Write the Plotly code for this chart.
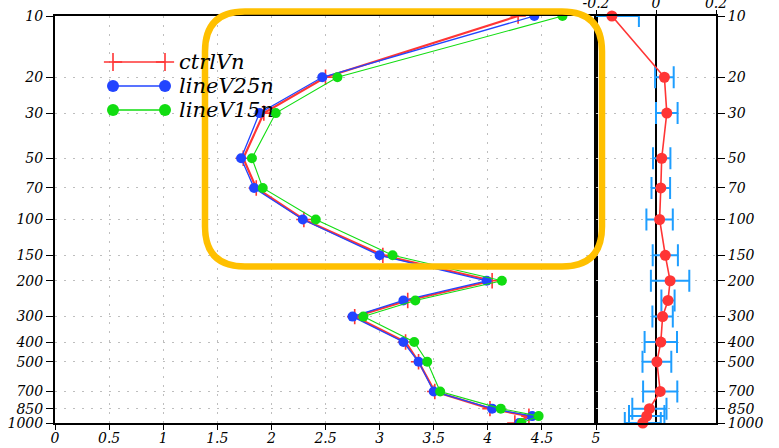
import plotly.graph_objects as go

# Pressure levels (hPa)
levels = [10, 20, 30, 50, 70, 100, 150, 200, 250, 300, 400, 500, 700, 850, 925, 1000]
tick_levels = [10, 20, 30, 50, 70, 100, 150, 200, 300, 400, 500, 700, 850, 1000]

# Profiles (left panel)
ctrlVn = [4.28, 2.50, 1.93, 1.74, 1.86, 2.30, 3.03, 4.04, 3.26, 2.77, 3.24, 3.36, 3.51, 4.02, 4.38, 4.25]
lineV25n = [4.43, 2.47, 1.89, 1.72, 1.84, 2.29, 3.00, 3.99, 3.22, 2.75, 3.22, 3.36, 3.50, 4.04, 4.41, 4.29]
lineV15n = [4.69, 2.61, 2.04, 1.82, 1.92, 2.41, 3.12, 4.13, 3.33, 2.85, 3.32, 3.44, 3.56, 4.12, 4.47, 4.31]

# Difference profile with spread (right panel)
diff = [-0.147, 0.028, 0.036, 0.019, 0.016, 0.012, 0.031, 0.047, 0.040, 0.022, 0.016, 0.003, 0.014, -0.022, -0.031, -0.044]
spread = [0.09, 0.031, 0.036, 0.029, 0.031, 0.044, 0.042, 0.064, 0.022, 0.034, 0.054, 0.048, 0.057, 0.057, 0.059, 0.06]

x_ticks = [0, 0.5, 1, 1.5, 2, 2.5, 3, 3.5, 4, 4.5, 5]
x_tick_text = ["0", "0.5", "1", "1.5", "2", "2.5", "3", "3.5", "4", "4.5", "5"]
x2_ticks = [-0.2, 0, 0.2]
x2_tick_text = ["-0.2", "0", "0.2"]

RED, BLUE, GREEN = "#FF3535", "#2244FF", "#11DD11"
ERR = "#1E9EFF"
ORANGE = "#FFC000"

W, H = 779, 448
ML, MR, MT, MB = 55, 63, 16, 25
PW, PH = W - ML - MR, H - MT - MB
split = (596 - ML) / PW

FONT = "DejaVu Serif"
tickfont = dict(family=FONT, size=14, color="black", style="italic")

fig = go.Figure()

fig.add_trace(go.Scatter(
    x=ctrlVn, y=levels, name="ctrlVn", mode="lines+markers",
    line=dict(color=RED, width=2.2),
    marker=dict(symbol="cross-thin", size=11, line=dict(color=RED, width=1.6)),
    xaxis="x", yaxis="y", showlegend=False))
fig.add_trace(go.Scatter(
    x=lineV25n, y=levels, name="lineV25n", mode="lines+markers",
    line=dict(color=BLUE, width=1.3),
    marker=dict(symbol="circle", size=10, color=BLUE),
    xaxis="x", yaxis="y", showlegend=False))
fig.add_trace(go.Scatter(
    x=lineV15n, y=levels, name="lineV15n", mode="lines+markers",
    line=dict(color=GREEN, width=1.1),
    marker=dict(symbol="circle", size=10, color=GREEN),
    xaxis="x", yaxis="y", showlegend=False))

fig.add_trace(go.Scatter(
    x=diff, y=levels, mode="lines+markers",
    line=dict(color=RED, width=1.6),
    marker=dict(symbol="circle", size=11, color=RED),
    error_x=dict(type="data", array=spread, color=ERR, thickness=2, width=11),
    cliponaxis=False, xaxis="x2", yaxis="y2", showlegend=False))

# Legend drawn on an overlay axis measured in pixels of the left panel
leg_rows = [("ctrlVn", RED, "cross-thin", 62), ("lineV25n", BLUE, "circle", 86), ("lineV15n", GREEN, "circle", 110)]
for name, col, sym, yy in leg_rows:
    if sym == "circle":
        mk = dict(symbol="circle", size=12, color=col)
    else:
        mk = dict(symbol="cross-thin", size=13, line=dict(color=col, width=1.6))
    fig.add_trace(go.Scatter(
        x=[113, 165], y=[yy, yy], mode="lines+markers",
        line=dict(color=col, width=1.6), marker=mk,
        xaxis="x3", yaxis="y3", showlegend=False, hoverinfo="skip"))
    fig.add_annotation(x=177, y=yy, xref="x3", yref="y3", text=name, showarrow=False,
                       xanchor="left", yanchor="middle",
                       font=dict(family=FONT, size=21, color="black", style="italic"))

axis_common = dict(showline=True, linecolor="black", linewidth=2, mirror=True,
                   ticks="outside", tickcolor="black", tickfont=tickfont, zeroline=False)
grid = dict(showgrid=True, gridcolor="#BEBEBE", griddash="2px,7px", gridwidth=1)

fig.update_layout(
    width=W, height=H,
    margin=dict(l=ML, r=MR, t=MT, b=MB),
    paper_bgcolor="white", plot_bgcolor="white",
    xaxis=dict(domain=[0, split], range=[0, 5], tickvals=x_ticks, ticktext=x_tick_text,
               ticklen=5, ticklabelstandoff=-4, anchor="y", **axis_common, **grid),
    yaxis=dict(type="log", range=[3, 1], tickvals=tick_levels, ticktext=[str(v) for v in tick_levels],
               ticklen=7, anchor="x", **axis_common, **grid),
    xaxis2=dict(domain=[split, 1], range=[-0.2, 0.2], side="top", tickvals=x2_ticks,
                ticktext=x2_tick_text, ticklen=4, ticklabelstandoff=-4, anchor="y2", showgrid=False,
                showline=True, linecolor="black", linewidth=2, mirror=True,
                ticks="outside", tickcolor="black", tickfont=tickfont,
                zeroline=True, zerolinecolor="black", zerolinewidth=2),
    yaxis2=dict(type="log", range=[3, 1], tickvals=tick_levels, ticktext=[str(v) for v in tick_levels],
                side="right", ticklen=7, anchor="x2", **axis_common, **grid),
    xaxis3=dict(overlaying="x", range=[ML, 596], visible=False, fixedrange=True),
    yaxis3=dict(overlaying="y", range=[H - MB, MT], visible=False, fixedrange=True),
)
for ax in ("xaxis", "yaxis", "xaxis2", "yaxis2"):
    fig.layout[ax].automargin = False


# Rounded highlight frame, defined in pixels and converted to paper units
def px(xp):
    return (xp - ML) / PW


def py(yp):
    return 1 - (yp - MT) / PH


x0, x1, y0, y1, r = 205, 602, 11.5, 266.5, 40
pts = [
    f"M {px(x0 + r)} {py(y0)}",
    f"L {px(x1 - r)} {py(y0)}",
    f"Q {px(x1)} {py(y0)} {px(x1)} {py(y0 + r)}",
    f"L {px(x1)} {py(y1 - r)}",
    f"Q {px(x1)} {py(y1)} {px(x1 - r)} {py(y1)}",
    f"L {px(x0 + r)} {py(y1)}",
    f"Q {px(x0)} {py(y1)} {px(x0)} {py(y1 - r)}",
    f"L {px(x0)} {py(y0 + r)}",
    f"Q {px(x0)} {py(y0)} {px(x0 + r)} {py(y0)}",
    "Z",
]
fig.add_shape(type="path", path=" ".join(pts), xref="paper", yref="paper",
              line=dict(color=ORANGE, width=6.5), layer="above")

fig.write_html("out.html")
